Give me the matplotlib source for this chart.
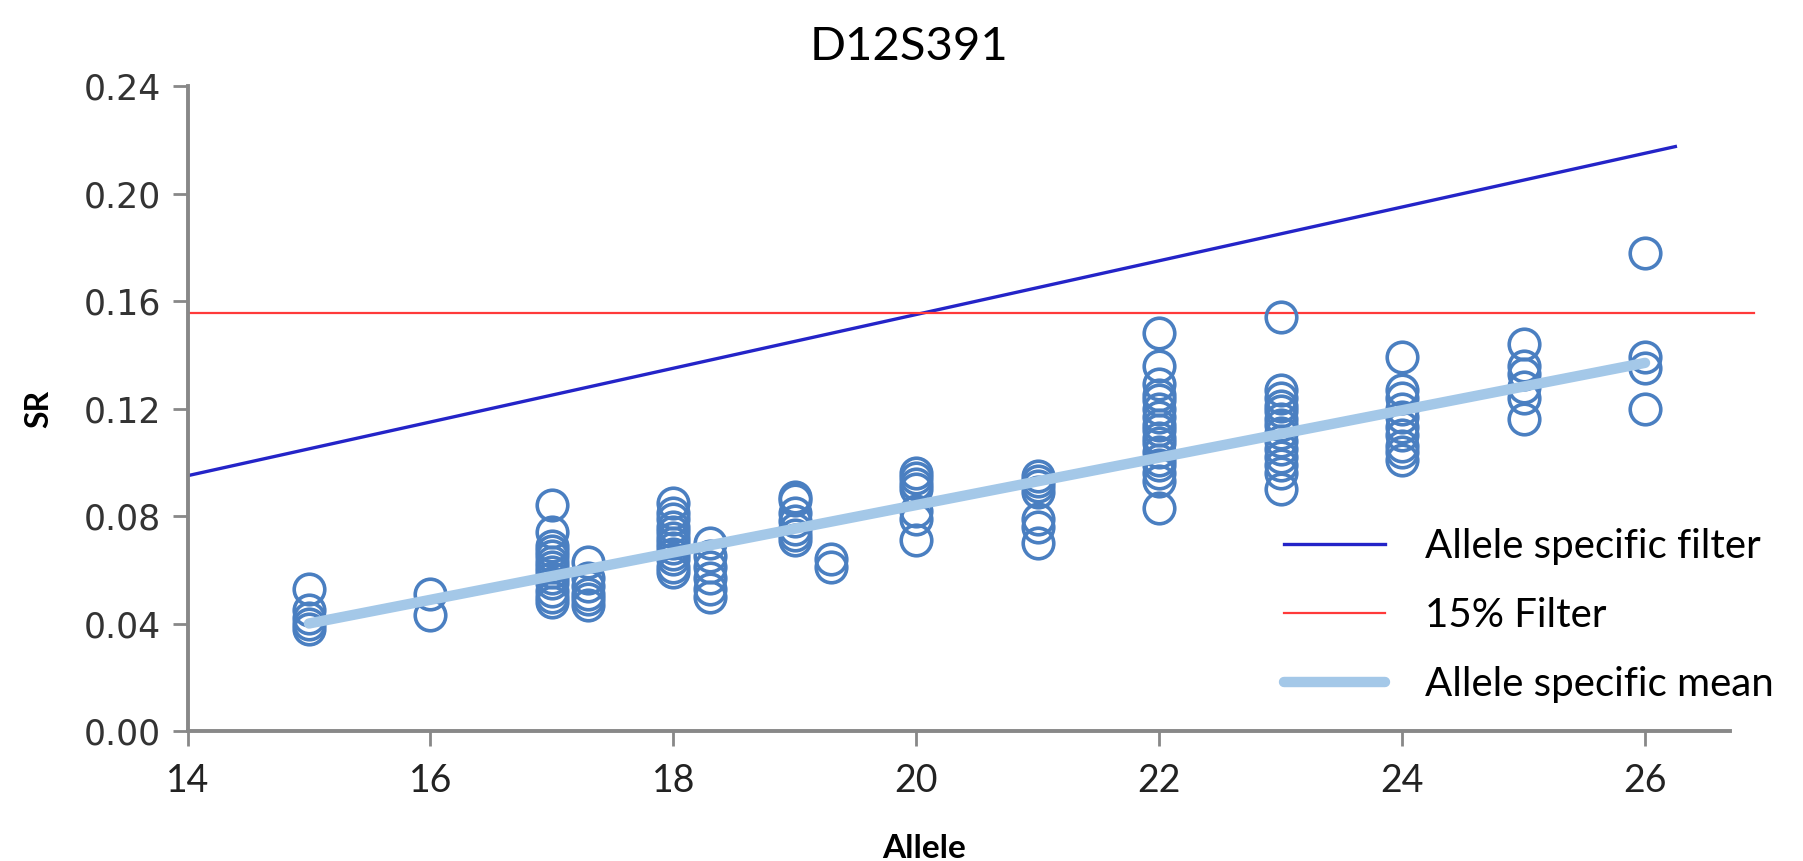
import numpy as np
import matplotlib.pyplot as plt

alleles = [15, 16, 17, 17.3, 18, 18.3, 19, 19.3, 20, 21, 22, 23, 24, 25, 26]
sr_values = [
    [0.053, 0.045, 0.042, 0.040, 0.038],
    [0.051, 0.043],
    [0.084, 0.074, 0.069, 0.067, 0.065, 0.063, 0.061, 0.059, 0.057, 0.055, 0.052, 0.050, 0.048],
    [0.063, 0.057, 0.054, 0.051, 0.049, 0.047],
    [0.085, 0.081, 0.079, 0.076, 0.074, 0.072, 0.070, 0.068, 0.066, 0.064, 0.061, 0.059],
    [0.070, 0.065, 0.061, 0.057, 0.053, 0.050],
    [0.087, 0.086, 0.081, 0.078, 0.075, 0.073, 0.071],
    [0.064, 0.061],
    [0.096, 0.094, 0.092, 0.090, 0.082, 0.079, 0.071],
    [0.095, 0.093, 0.091, 0.089, 0.079, 0.076, 0.070],
    [0.148, 0.136, 0.129, 0.125, 0.123, 0.120, 0.117, 0.114, 0.112, 0.109, 0.107,
     0.104, 0.101, 0.099, 0.096, 0.093, 0.083],
    [0.154, 0.127, 0.124, 0.121, 0.119, 0.116, 0.114, 0.111, 0.108, 0.105, 0.102,
     0.099, 0.096, 0.090],
    [0.139, 0.127, 0.124, 0.120, 0.117, 0.113, 0.110, 0.106, 0.104, 0.101],
    [0.144, 0.136, 0.133, 0.128, 0.124, 0.116],
    [0.178, 0.139, 0.135, 0.120],
]

mean_x = [15, 26]
mean_y = [0.040, 0.137]

filter_x = [14, 26.25]
filter_y = [0.095, 0.2175]

flat_x = [14, 26.9]
flat_y = [0.1555, 0.1555]

fig = plt.figure(figsize=(18.03, 8.61), dpi=100)
ax = fig.add_axes([0.104, 0.151, 0.869, 0.749])

xs = []
ys = []
for a, vals in zip(alleles, sr_values):
    xs += [a] * len(vals)
    ys += vals
ax.plot(xs, ys, 'o', ms=22, mfc='none', mec='#4a7fc1', mew=2.6, zorder=3)

ax.plot(filter_x, filter_y, color='#2424c8', lw=2.4, label='Allele specific filter', zorder=2)
ax.plot(flat_x, flat_y, color='#ff3a3a', lw=1.6, label='15% Filter', clip_on=False, zorder=2)
ax.plot(mean_x, mean_y, color='#a4c8e8', lw=7.5, solid_capstyle='round',
        label='Allele specific mean', zorder=4)

ax.set_xlim(14, 26.9)
ax.set_ylim(0, 0.24)
ax.set_xticks(np.arange(14, 27, 2))
ax.set_yticks(np.arange(0, 0.241, 0.04))
ax.set_yticklabels(['%.2f' % v for v in np.arange(0, 0.241, 0.04)],
                   fontsize=25, color='#333333', family='DejaVu Sans')
ax.set_xticklabels([str(v) for v in range(14, 27, 2)], fontsize=27,
                   color='#222222', family='Lato')

for s in ['top', 'right']:
    ax.spines[s].set_visible(False)
for s in ['left', 'bottom']:
    ax.spines[s].set_color('#888888')
    ax.spines[s].set_linewidth(2.8)
ax.spines['bottom'].set_bounds(14, 26.7)
ax.tick_params(axis='both', direction='out', length=11, width=2, color='#888888')
ax.tick_params(axis='x', pad=12)
ax.tick_params(axis='y', pad=8)

ax.set_xlabel('Allele', fontsize=24, fontweight='bold', family='Lato')
ax.xaxis.set_label_coords(0.47, -0.16)
ax.set_ylabel('SR', fontsize=23, fontweight='bold', family='Lato', labelpad=22)
fig.text(0.504, 0.945, 'D12S391', fontsize=34, family='Lato', ha='center', va='center')

leg = ax.legend(loc='lower right', bbox_to_anchor=(0.995, 0.16),
                bbox_transform=fig.transFigure, frameon=False,
                prop={'family': 'Lato', 'size': 29}, handlelength=2.5,
                handletextpad=1.0, labelspacing=0.8, borderpad=0)

fig.savefig('out.png', dpi=100)
